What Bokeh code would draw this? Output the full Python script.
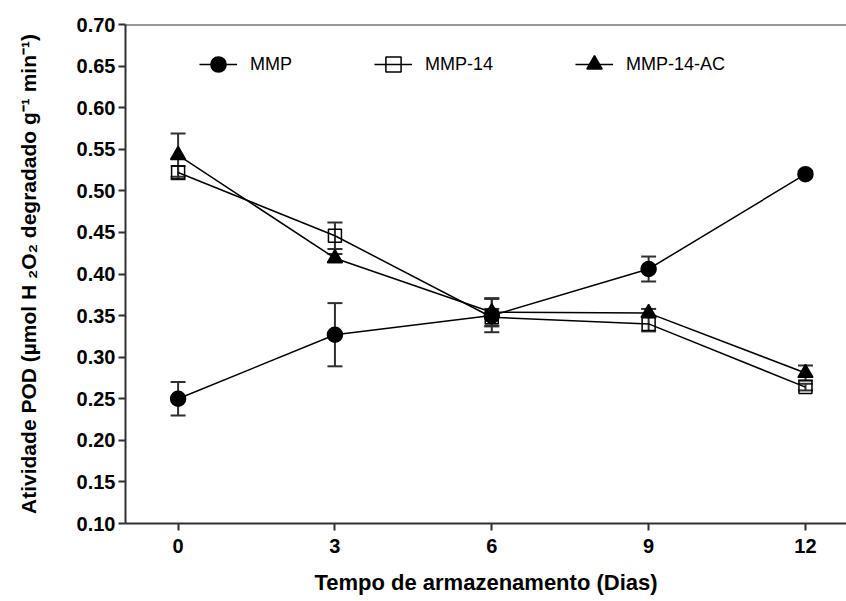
from bokeh.plotting import figure
from bokeh.models import (Range1d, FixedTicker, Whisker, ColumnDataSource, Legend,
                          LegendItem, Span, TeeHead, NumeralTickFormatter)
from bokeh.embed import file_html
from bokeh.resources import INLINE

# ---- data ----
days = [0, 3, 6, 9, 12]
mmp = [0.250, 0.327, 0.350, 0.406, 0.520]
mmp_err = [0.020, 0.038, 0.020, 0.015, 0.004]
mmp14 = [0.522, 0.446, 0.348, 0.340, 0.264]
mmp14_err = [0.008, 0.016, 0.010, 0.009, 0.004]
mmp14ac = [0.543, 0.419, 0.354, 0.353, 0.281]
mmp14ac_err = [0.026, 0.005, 0.017, 0.005, 0.009]
series_names = ["MMP", "MMP-14", "MMP-14-AC"]
x_ticks = [0, 3, 6, 9, 12]
y_ticks = [0.10, 0.15, 0.20, 0.25, 0.30, 0.35, 0.40, 0.45, 0.50, 0.55, 0.60, 0.65, 0.70]
x_title = "Tempo de armazenamento (Dias)"
y_title = "Atividade POD (µmol H ₂O₂ degradado g⁻¹ min⁻¹)"

AX = "#303030"
FONT = "Liberation Sans"

p = figure(width=846, height=601, output_backend="svg", toolbar_location=None,
           x_range=Range1d(-1.006, 12.785), y_range=Range1d(0.10, 0.70),
           min_border_left=125, min_border_top=24, min_border_bottom=78,
           min_border_right=0)
p.outline_line_color = None
p.xgrid.visible = False
p.ygrid.visible = False
p.background_fill_color = "white"
p.border_fill_color = "white"

for ax in (p.xaxis[0], p.yaxis[0]):
    ax.axis_line_color = AX
    ax.axis_line_width = 2
    ax.major_tick_line_color = AX
    ax.major_tick_line_width = 2
    ax.major_tick_out = 7
    ax.major_tick_in = 0
    ax.minor_tick_line_color = None
    ax.major_label_text_font = FONT
    ax.major_label_text_font_style = "bold"
    ax.major_label_text_font_size = "20px"
    ax.major_label_text_color = "black"
    ax.axis_label_text_font = FONT
    ax.axis_label_text_font_style = "bold"
    ax.axis_label_text_color = "black"

p.xaxis.ticker = FixedTicker(ticks=x_ticks)
p.yaxis.ticker = FixedTicker(ticks=y_ticks)
p.yaxis.formatter = NumeralTickFormatter(format="0.00")
p.xaxis.major_label_standoff = 8
p.yaxis.major_label_standoff = 3
p.xaxis.axis_label = x_title
p.xaxis.axis_label_text_font_size = "22px"
p.xaxis.axis_label_standoff = 14
p.yaxis.axis_label = y_title
p.yaxis.axis_label_text_font_size = "21px"
p.yaxis.axis_label_standoff = 34

# top border line
p.add_layout(Span(location=0.70, dimension="width", line_color=AX, line_width=2))

items = []
specs = [
    (mmp, mmp_err, "circle", 15, "black"),
    (mmp14, mmp14_err, "square", 13, None),
    (mmp14ac, mmp14ac_err, "triangle", 15, "black"),
]
for name, (vals, errs, marker, size, fill) in zip(series_names, specs):
    src = ColumnDataSource(dict(
        x=days, y=vals,
        upper=[v + e for v, e in zip(vals, errs)],
        lower=[v - e for v, e in zip(vals, errs)],
    ))
    wh = Whisker(base="x", upper="upper", lower="lower", source=src, dimension="height",
                 line_color=AX, line_width=2,
                 upper_head=TeeHead(size=15, line_color=AX, line_width=2),
                 lower_head=TeeHead(size=15, line_color=AX, line_width=2))
    p.add_layout(wh)
    lr = p.line("x", "y", source=src, line_color="black", line_width=1.5)
    sr = p.scatter("x", "y", source=src, marker=marker, size=size,
                   fill_color=fill, fill_alpha=1.0 if fill else 0.0,
                   line_color="black", line_width=1.5)
    items.append(LegendItem(label=name, renderers=[lr, sr]))

legend = Legend(items=items, location=(74, 440), orientation="horizontal",
                glyph_width=38, glyph_height=38, label_standoff=13, spacing=82,
                padding=0, margin=0, border_line_color=None, background_fill_alpha=0,
                label_text_font=FONT, label_text_font_size="18px",
                label_text_color="black", label_height=20)
p.add_layout(legend)

open("out.html", "w").write(file_html(p, INLINE))
